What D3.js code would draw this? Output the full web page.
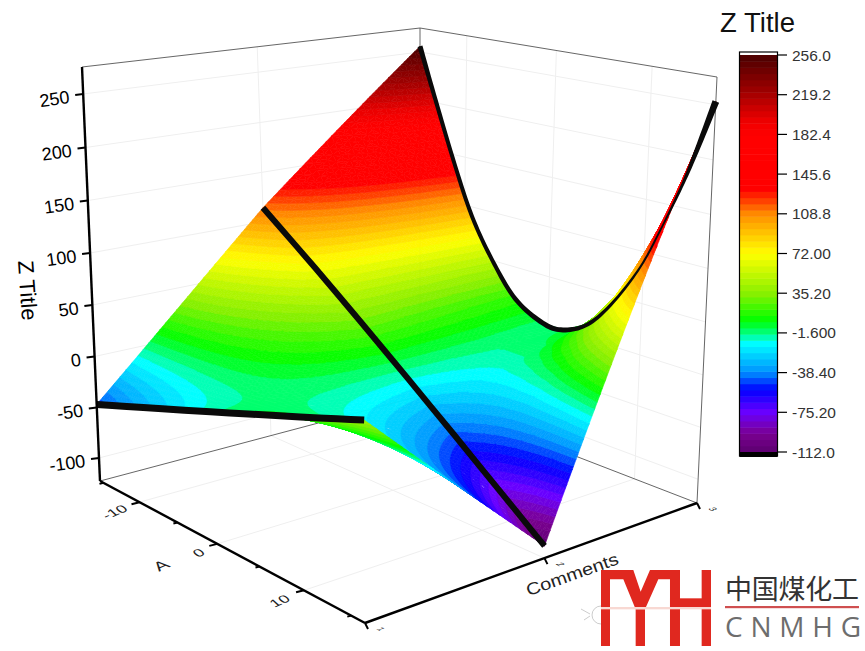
<!DOCTYPE html>
<html><head><meta charset="utf-8">
<script src="https://cdn.jsdelivr.net/npm/d3@7/dist/d3.min.js"></script>
<style>html,body{margin:0;padding:0;background:#fff}svg{display:block}text{font-family:"Liberation Sans",Arial,sans-serif}</style>
</head><body><svg id="c" width="865" height="651"></svg>
<script>
// ---- data ----
const aValues = [-15.5,-13.8,-11.3,-9.1,-6.6,-3.8,-0.6,1.7,4.4,7.0,9.7,11.7,13.6,15.0,16.4];
const row1 = [-47,-42.2,-35.2,-29,-21.9,-14,-5,1.5,9.1,16.4,24,29.6,35,39,43];
const row2 = [114,102,84.4,69,51.3,31.5,8.8,-7.5,-26.7,-45,-64.3,-78.5,-92,-102,-112];
const row3 = [256,208,141,90,50,17,1,0.5,14,43,85,128,173,212,253];
const commentRows = [1,2,3];
const row3Widths = [5,4.2,4,4,4,4.5,5,5,4,3,2.2,1.8,3,5,7];
const zTicks = [250,200,150,100,50,0,-50,-100];
const aTicksMajor = [-10,0,10];
const aTicksMinor = [-15,-5,5,15];
const cTicks = [1,2,3];
const legendLabels = ["256.0","219.2","182.4","145.6","108.8","72.00","35.20","-1.600","-38.40","-75.20","-112.0"];
const legendValues = [256,219.2,182.4,145.6,108.8,72,35.2,-1.6,-38.4,-75.2,-112];
const colorStops = [-112,-95,-75,-54,-38,-11,-1.6,10,35,72,90,108.8,125,132,182,195,219,256];
const colorValues = ["#5c0070","#7a0090","#6a00ff","#0000ff","#0090ff","#00ffff","#00ff80","#00ff00","#88f000","#ffff00","#ffc800","#ff8c00","#ff2800","#ff0000","#ff0000","#ee0000","#a80000","#4a0000"];
const levelCount = 64;

// ---- view: the eight box corners as seen in the picture ----
const floorQuad = [[100,481],[365,623],[697,503],[420,396]];
const roofQuad  = [[82,67],[363,125],[717,77],[420,28]];
function squareToQuad(q){
  const [[x0,y0],[x1,y1],[x2,y2],[x3,y3]] = q;
  const dx1=x1-x2,dx2=x3-x2,sx=x0-x1+x2-x3,dy1=y1-y2,dy2=y3-y2,sy=y0-y1+y2-y3;
  const den=dx1*dy2-dx2*dy1;
  const g=(sx*dy2-dx2*sy)/den,h=(dx1*sy-sx*dy1)/den;
  const a=x1-x0+g*x1,b=x3-x0+h*x3,d=y1-y0+g*y1,e=y3-y0+h*y3;
  return (u,v)=>{const k=g*u+h*v+1;return [(a*u+b*v+x0)/k,(d*u+e*v+y0)/k];};
}
const hFloor=squareToQuad(floorQuad),hRoof=squareToQuad(roofQuad);
const aScale=d3.scaleLinear().domain([-15.5,16.4]).range([0,1]);
const cScale=d3.scaleLinear().domain([1,3]).range([0,1]);
const zScale=d3.scaleLinear().domain([-123,275]).range([0,1]);
const warp=1.04;
function project(a,c,z){
  const u=aScale(a),v=cScale(c),w=zScale(z),s=w/(w+(1-w)*warp);
  const p=hFloor(u,v),q=hRoof(u,v);
  return [p[0]+(q[0]-p[0])*s,p[1]+(q[1]-p[1])*s];
}
const color=d3.scaleLinear().domain(colorStops).range(colorValues);
const levelStep=368/levelCount;
const levelOf=z=>Math.min(levelCount-1,Math.max(0,Math.floor((z+112)/levelStep)));
const levelColor=i=>color(-112+(i+0.5)*levelStep);

const svg=d3.select("#c");
const line=d3.line();
const zMin=zScale.domain()[0],zMax=zScale.domain()[1],aMin=aScale.domain()[0],aMax=aScale.domain()[1];

// ---- grid ----
const gridG=svg.append("g").attr("fill","none").attr("stroke","#efefef").attr("stroke-width",1);
const seg=(g,p,q)=>g.append("path").attr("d",line([p,q]));
zTicks.forEach(z=>{
  seg(gridG,project(aMin,1,z),project(aMin,3,z));
  seg(gridG,project(aMin,3,z),project(aMax,3,z));
});
aTicksMajor.forEach(a=>{
  seg(gridG,project(a,3,zMin),project(a,3,zMax));
  seg(gridG,project(a,1,zMin),project(a,3,zMin));
});
seg(gridG,project(aMin,2,zMin),project(aMin,2,zMax));
seg(gridG,project(aMin,2,zMin),project(aMax,2,zMin));

// ---- thin box edges ----
const boxG=svg.append("g").attr("fill","none").attr("stroke","#555").attr("stroke-width",0.9);
seg(boxG,project(aMin,1,zMax),project(aMin,3,zMax));
seg(boxG,project(aMin,3,zMax),project(aMax,3,zMax));
seg(boxG,project(aMax,3,zMax),project(aMax,3,zMin));
seg(boxG,project(aMin,3,zMax),project(aMin,3,zMin));
seg(boxG,project(aMin,1,zMin),project(aMin,3,zMin));
seg(boxG,project(aMin,3,zMin),project(aMax,3,zMin));

// ---- surface: triangles cut along the colour levels, drawn back to front ----
const rows=[row1,row2,row3];
const rowAt=(r,a)=>{
  const i=Math.min(aValues.length-2,Math.max(0,d3.bisectRight(aValues,a)-1));
  return d3.interpolateNumber(r[i],r[i+1])((a-aValues[i])/(aValues[i+1]-aValues[i]));
};
const zAt=(a,c)=>{
  const k=Math.min(1,Math.floor(c-1)),t=c-1-k;
  return rowAt(rows[k],a)*(1-t)+rowAt(rows[k+1],a)*t;
};
function clip(poly,limit,keepAbove){
  const out=[];
  for(let i=0;i<poly.length;i++){
    const p=poly[i],q=poly[(i+1)%poly.length];
    const pIn=keepAbove?p[2]>=limit:p[2]<=limit,qIn=keepAbove?q[2]>=limit:q[2]<=limit;
    if(pIn)out.push(p);
    if(pIn!==qIn){
      const t=(limit-p[2])/(q[2]-p[2]);
      out.push([p[0]+(q[0]-p[0])*t,p[1]+(q[1]-p[1])*t,limit]);
    }
  }
  return out;
}
const nu=80,nv=60,pieces=[];
function addTriangle(tri){
  const zs=tri.map(p=>p[2]);
  const lo=levelOf(d3.min(zs)),hi=levelOf(d3.max(zs));
  for(let l=lo;l<=hi;l++){
    let poly=tri;
    if(l>lo)poly=clip(poly,-112+l*levelStep,true);
    if(l<hi)poly=clip(poly,-112+(l+1)*levelStep,false);
    if(poly.length>2)pieces.push({d:line(poly.map(p=>project(p[0],p[1],p[2])))+"Z",f:levelColor(l)});
  }
}
for(let j=nv-1;j>=0;j--)for(let i=0;i<nu;i++){
  const a0=aMin+(aMax-aMin)*i/nu,a1=aMin+(aMax-aMin)*(i+1)/nu;
  const c0=1+2*j/nv,c1=1+2*(j+1)/nv;
  const A=[a0,c1,zAt(a0,c1)],B=[a1,c1,zAt(a1,c1)],C=[a1,c0,zAt(a1,c0)],D=[a0,c0,zAt(a0,c0)];
  addTriangle([A,B,D]);addTriangle([B,C,D]);
}
svg.append("g").attr("stroke-width",0.6).attr("stroke-linejoin","round").selectAll("path").data(pieces).join("path")
  .attr("d",d=>d.d).attr("fill",d=>d.f).attr("stroke",d=>d.f);

// ---- thick curves ----
const lineG=svg.append("g").attr("fill","none").attr("stroke","#0a0a0a");
lineG.append("path").attr("stroke-width",7).attr("d",line(aValues.map((a,i)=>project(a,1,row1[i]))));
lineG.append("path").attr("stroke-width",6).attr("d",line(aValues.map((a,i)=>project(a,2,row2[i]))));
// back curve: a ribbon whose width follows row3Widths
(function(){
  const pts=aValues.map((a,k)=>project(a,3,row3[k]));
  const left=[],right=[];
  for(let i=0;i<pts.length-1;i++){
    const p0=pts[Math.max(0,i-1)],p1=pts[i],p2=pts[i+1],p3=pts[Math.min(pts.length-1,i+2)];
    const c1=[p1[0]+(p2[0]-p0[0])/6,p1[1]+(p2[1]-p0[1])/6],c2=[p2[0]-(p3[0]-p1[0])/6,p2[1]-(p3[1]-p1[1])/6];
    for(let s=0;s<=10;s++){
      const t=s/10,m=1-t;
      const x=m*m*m*p1[0]+3*m*m*t*c1[0]+3*m*t*t*c2[0]+t*t*t*p2[0];
      const y=m*m*m*p1[1]+3*m*m*t*c1[1]+3*m*t*t*c2[1]+t*t*t*p2[1];
      const dx=3*m*m*(c1[0]-p1[0])+6*m*t*(c2[0]-c1[0])+3*t*t*(p2[0]-c2[0]);
      const dy=3*m*m*(c1[1]-p1[1])+6*m*t*(c2[1]-c1[1])+3*t*t*(p2[1]-c2[1]);
      const n=Math.hypot(dx,dy)||1,h=(row3Widths[i]+(row3Widths[i+1]-row3Widths[i])*t)/2;
      left.push([x-dy/n*h,y+dx/n*h]);right.unshift([x+dy/n*h,y-dx/n*h]);
    }
  }
  svg.append("path").attr("fill","#0a0a0a").attr("d",line(left.concat(right))+"Z");
})();

// ---- axes ----
const axisG=svg.append("g").attr("fill","none").attr("stroke","#000").attr("stroke-width",2.4);
seg(axisG,project(aMin,1,zMax),project(aMin,1,zMin));
seg(axisG,project(aMin,1,zMin),project(aMax,1,zMin));
seg(axisG,project(aMax,1,zMin),project(aMax,3,zMin));
const tickG=svg.append("g").attr("fill","none").attr("stroke","#000").attr("stroke-width",2);
zTicks.forEach(z=>{const p=project(aMin,1,z);seg(tickG,p,[p[0]-8,p[1]+1]);});
aTicksMajor.forEach(a=>{const p=project(a,1,zMin);seg(tickG,p,[p[0]-8,p[1]+2]);});
aTicksMinor.forEach(a=>{const p=project(a,1,zMin);seg(tickG,p,[p[0]-4,p[1]+1]);});
cTicks.forEach(c=>{const p=project(aMax,c,zMin);seg(tickG,p,[p[0]+3,p[1]+6]);});

const labelG=svg.append("g").attr("fill","#000");
zTicks.forEach(z=>{
  const p=project(aMin,1,z);
  labelG.append("text").attr("text-anchor","end").attr("font-size",18)
    .attr("transform",`translate(${p[0]-13},${p[1]+9}) rotate(-8)`).text(z);
});
labelG.append("text").attr("text-anchor","middle").attr("font-size",22)
  .attr("transform","translate(20,291) rotate(86)").text("Z Title");
const floorText=(x,y,s,size)=>labelG.append("text").attr("text-anchor","middle").attr("font-size",size).attr("fill","#222")
  .attr("transform",`matrix(0.95,-0.42,0.6,0.55,${x},${y})`).text(s);
aTicksMajor.forEach((a,i)=>{const pos=[[118,515],[202,556],[283,604]][i];floorText(pos[0],pos[1],a,16);});
floorText(165,569,"A",19);
labelG.append("text").attr("text-anchor","middle").attr("font-size",16).attr("fill","#222")
  .attr("transform","matrix(1.18,-0.42,0.35,1.0,574,580)").text("Comments");
cTicks.forEach((c,i)=>{
  const p=project(aMax,c,zMin);
  labelG.append("text").attr("text-anchor","middle").attr("font-size",14).attr("fill","#222")
    .attr("transform",`matrix(0.55,0.32,-0.62,0.2,${p[0]+13},${p[1]+7})`).text(c);
});

// ---- colour legend ----
const legendY=d3.scaleLinear().domain([-112,256]).range([452,55]);
const legG=svg.append("g");
const levels=d3.range(levelCount);
legG.selectAll("rect.b").data(levels).join("rect").attr("class","b").attr("x",740).attr("width",37)
  .attr("y",i=>legendY(-112+(i+1)*levelStep)).attr("height",i=>legendY(-112+i*levelStep)-legendY(-112+(i+1)*levelStep)+0.5).attr("fill",levelColor);
legG.append("rect").attr("x",739.5).attr("y",452).attr("width",38).attr("height",5).attr("fill","#000");
legG.append("rect").attr("x",739.5).attr("y",52).attr("width",38).attr("height",404).attr("fill","none").attr("stroke","#000").attr("stroke-width",1.2);
legendValues.forEach((v,i)=>{
  const y=legendY(v);
  legG.append("line").attr("x1",777).attr("x2",787).attr("y1",y).attr("y2",y).attr("stroke","#000").attr("stroke-width",1.2);
  legG.append("text").attr("x",792).attr("y",y+5.5).attr("font-size",15.5).attr("fill","#333").text(legendLabels[i]);
});
legG.append("text").attr("x",757.5).attr("y",32).attr("text-anchor","middle").attr("font-size",27.5).attr("fill","#111").text("Z Title");

// ---- watermark ----
const logo=svg.append("g").attr("transform","translate(570,560) scale(0.3333)").attr("fill","#e0281f");
[[93,30,27,228],[197,148,28,110],[300,30,30,228],[395,30,28,228],[300,115,123,30]].forEach(r=>logo.append("rect").attr("x",r[0]).attr("y",r[1]).attr("width",r[2]).attr("height",r[3]));
logo.append("path").attr("d","M93 30H190L212 95L240 30H330V58H265L225 148H197L160 58H93Z");
logo.append("rect").attr("x",93).attr("y",141).attr("width",330).attr("height",7).attr("fill","#f8d8d2");
const icon=svg.append("g").attr("fill","none").attr("stroke","#aaa").attr("stroke-width",0.6);
icon.append("path").attr("d","M601 606A9 9 0 0 0 601 624M590 616L584 620M590 614L581 609");
svg.append("text").attr("x",725).attr("y",599).attr("font-size",27).attr("textLength",134).attr("fill","#333")
  .style("font-family",'"Noto Sans CJK SC"').text("中国煤化工");
svg.append("rect").attr("x",725).attr("y",606).attr("width",134).attr("height",2.2).attr("fill","#cf4f50");
svg.append("text").attr("x",725).attr("y",637).attr("font-size",28).attr("textLength",136).attr("fill","#6d6d6d")
  .style("font-family",'"Open Sans"').text("CNMHG");
</script></body></html>
